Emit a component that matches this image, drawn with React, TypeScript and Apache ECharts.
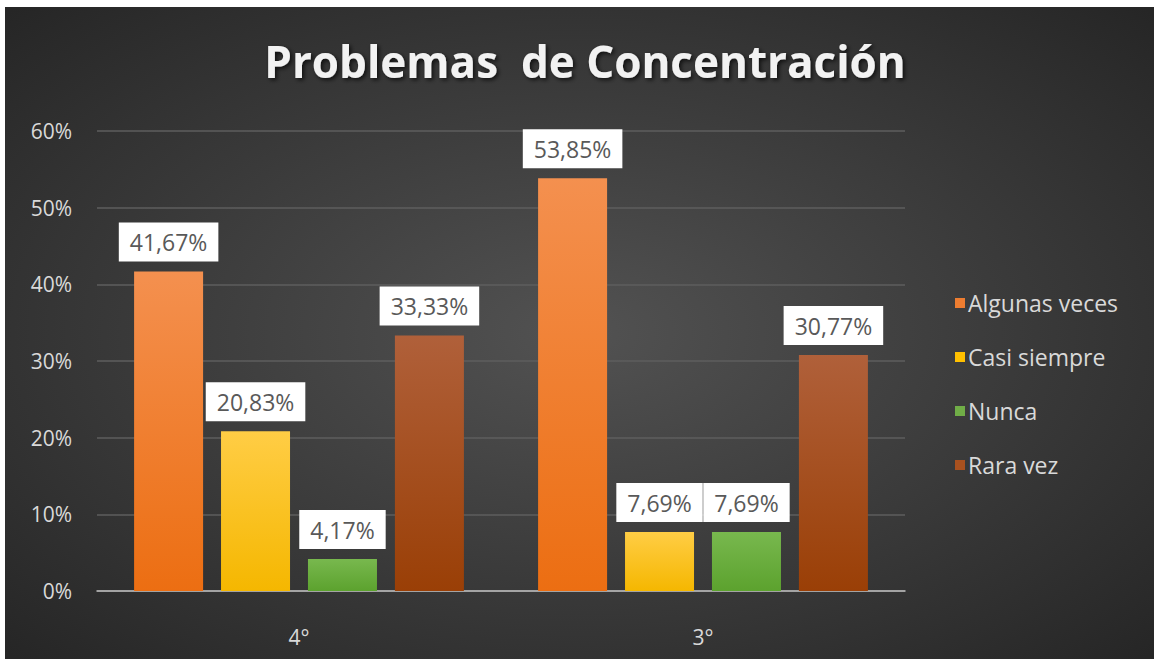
import React, { useEffect, useRef } from "react";
import * as echarts from "echarts";

const categories = ["4°", "3°"];
const seriesNames = ["Algunas veces", "Casi siempre", "Nunca", "Rara vez"];
const algunasVeces = [41.67, 53.85];
const casiSiempre = [20.83, 7.69];
const nunca = [4.17, 7.69];
const raraVez = [33.33, 30.77];
const yTicks = { min: 0, max: 60, interval: 10 };

const grad = (top: string, bottom: string) =>
  new echarts.graphic.LinearGradient(0, 0, 0, 1, [
    { offset: 0, color: top },
    { offset: 1, color: bottom },
  ]);

export default function App() {
  const ref = useRef<HTMLDivElement>(null);
  useEffect(() => {
    document.body.style.margin = "0";
    if (!ref.current) return;
    const chart = echarts.init(ref.current, undefined, { renderer: "svg" });
    const values = [algunasVeces, casiSiempre, nunca, raraVez];
    const colors = [
      ["#F4904F", "#EC6E12"],
      ["#FFCD45", "#F5B700"],
      ["#78B84E", "#5CA22E"],
      ["#B0603A", "#9A3F06"],
    ];
    const legendColors = ["#ED7D31", "#FFC000", "#70AD47", "#A9511F"];
    const fmt = (v: number) => v.toFixed(2).replace(".", ",") + "%";
    chart.setOption({
      animation: false,
      backgroundColor: "#ffffff",
      graphic: [
        {
          type: "rect",
          z: -10,
          silent: true,
          shape: { x: 5, y: 7, width: 1149, height: 652 },
          style: {
            fill: new echarts.graphic.RadialGradient(0.5, 0.5, 0.7, [
              { offset: 0, color: "#525252" },
              { offset: 1, color: "#262626" },
            ]),
          },
        },
      ],
      title: {
        text: "Problemas  de Concentración",
        left: 580,
        top: 34,
        textAlign: "center",
        textStyle: {
          color: "#F2F2F2",
          fontFamily: "Open Sans",
          fontWeight: "bold",
          fontSize: 44,
          textShadowColor: "rgba(0,0,0,0.7)",
          textShadowBlur: 4,
          textShadowOffsetX: 2,
          textShadowOffsetY: 2,
        },
      },
      legend: {
        orient: "vertical",
        left: 950,
        top: 286,
        itemWidth: 10,
        itemHeight: 10,
        itemGap: 30,
        icon: "rect",
        data: seriesNames.map((n, i) => ({
          name: n,
          itemStyle: { color: legendColors[i] },
        })),
        textStyle: {
          color: "#D9D9D9",
          fontFamily: "Open Sans",
          fontSize: 23,
          lineHeight: 24,
          padding: [0, 0, 0, -2],
        },
      },
      grid: { left: 97, right: 249, top: 131, bottom: 68, containLabel: false },
      xAxis: {
        type: "category",
        data: categories,
        axisTick: { show: false },
        axisLine: { lineStyle: { color: "#BFBFBF", width: 1.5 } },
        axisLabel: {
          color: "#D9D9D9",
          fontFamily: "Open Sans",
          fontSize: 21,
          margin: 35,
        },
      },
      yAxis: {
        type: "value",
        min: yTicks.min,
        max: yTicks.max,
        interval: yTicks.interval,
        axisLine: { show: false },
        axisTick: { show: false },
        splitLine: { lineStyle: { color: "#5E5E5E", width: 1.5 } },
        axisLabel: {
          color: "#D9D9D9",
          fontFamily: "Open Sans",
          fontSize: 21,
          margin: 25,
          formatter: "{value}%",
        },
      },
      series: seriesNames.map((name, i) => ({
        name,
        type: "bar",
        data: values[i],
        barWidth: 69,
        barGap: "26%",
        itemStyle: { color: grad(colors[i][0], colors[i][1]) },
        label: {
          show: true,
          position: "top",
          distance: 10,
          formatter: (p: any) => fmt(p.value),
          color: "#595959",
          fontFamily: "Open Sans",
          fontSize: 23,
          backgroundColor: "#FFFFFF",
          padding: [8, 11, 8, 11],
        },
      })),
    });
    return () => chart.dispose();
  }, []);
  return (
    <div
      ref={ref}
      style={{ width: 1154, height: 659, position: "absolute", left: 0, top: 0 }}
    />
  );
}
